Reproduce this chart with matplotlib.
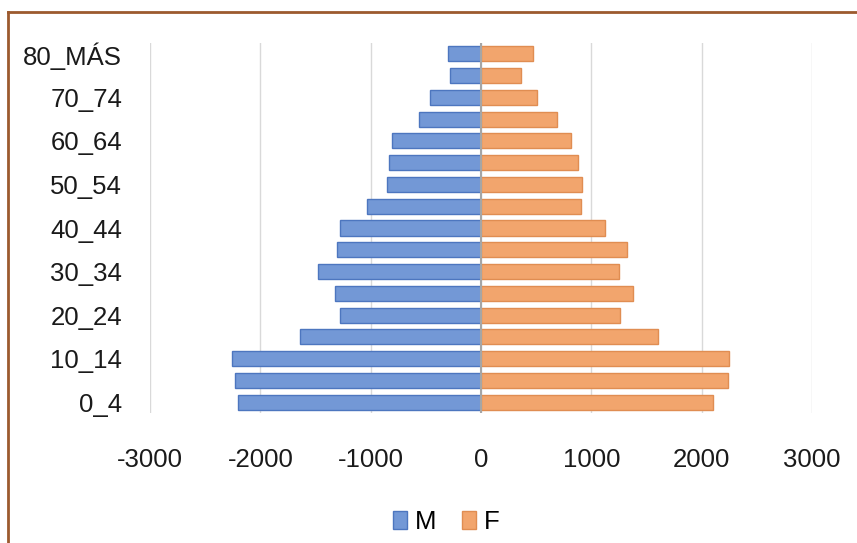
import numpy as np
import matplotlib
matplotlib.use("Agg")
import matplotlib.pyplot as plt
from matplotlib.lines import Line2D

# age groups, bottom to top
grupos = ["0_4", "5_9", "10_14", "15_19", "20_24", "25_29", "30_34", "35_39",
          "40_44", "45_49", "50_54", "55_59", "60_64", "65_69", "70_74",
          "75_79", "80_MÁS"]
hombres = [-2200, -2230, -2260, -1640, -1275, -1325, -1475, -1305,
           -1280, -1030, -855, -835, -805, -560, -460, -280, -300]
mujeres = [2100, 2235, 2250, 1605, 1260, 1380, 1250, 1325,
           1125, 905, 915, 875, 815, 690, 510, 365, 475]
xticks = [-3000, -2000, -1000, 0, 1000, 2000, 3000]

plt.rcParams['font.family'] = ['Liberation Sans', 'DejaVu Sans']

fig = plt.figure(figsize=(8.57, 5.43), dpi=100)
ax = fig.add_axes([0.175, 0.2394, 0.7725, 0.6814])

y = np.arange(len(grupos))
ax.barh(y, hombres, height=0.69, color='#7398d6', edgecolor='#4d76bf',
        linewidth=1.0, label='M', zorder=3)
ax.barh(y, mujeres, height=0.69, color='#f2a56d', edgecolor='#e08d52',
        linewidth=1.0, label='F', zorder=3)

ax.set_xlim(-3000, 3000)
ax.set_ylim(-0.5, len(grupos) - 0.5)
ax.set_xticks(xticks)
ax.set_xticklabels([str(v) for v in xticks])
ax.set_yticks(y[::2])
ax.set_yticklabels(grupos[::2])
ax.grid(axis='x', color='#d9d9d9', linewidth=1.0, zorder=0)
ax.axvline(0, color='#a6a6a6', linewidth=1.5, zorder=4)
for s in ax.spines.values():
    s.set_visible(False)
ax.tick_params(axis='both', length=0, labelsize=18.5, colors='#1a1a1a')
ax.tick_params(axis='x', pad=25)
ax.tick_params(axis='y', pad=20)

ax.legend(loc='center', bbox_to_anchor=(446 / 857, 1 - 522 / 543),
          bbox_transform=fig.transFigure, ncol=2, frameon=False,
          fontsize=18.5, handlelength=0.55, handleheight=0.75,
          handletextpad=0.3, columnspacing=1.0, borderpad=0.2)

# chart border (top and left edges visible)
fig.add_artist(Line2D([8 / 857, 8 / 857], [0, 1 - 12 / 543],
                      color='#9c5a2e', linewidth=2, transform=fig.transFigure))
fig.add_artist(Line2D([8 / 857, 1], [1 - 12 / 543, 1 - 12 / 543],
                      color='#9c5a2e', linewidth=2, transform=fig.transFigure))

fig.savefig("out.png", dpi=100)
